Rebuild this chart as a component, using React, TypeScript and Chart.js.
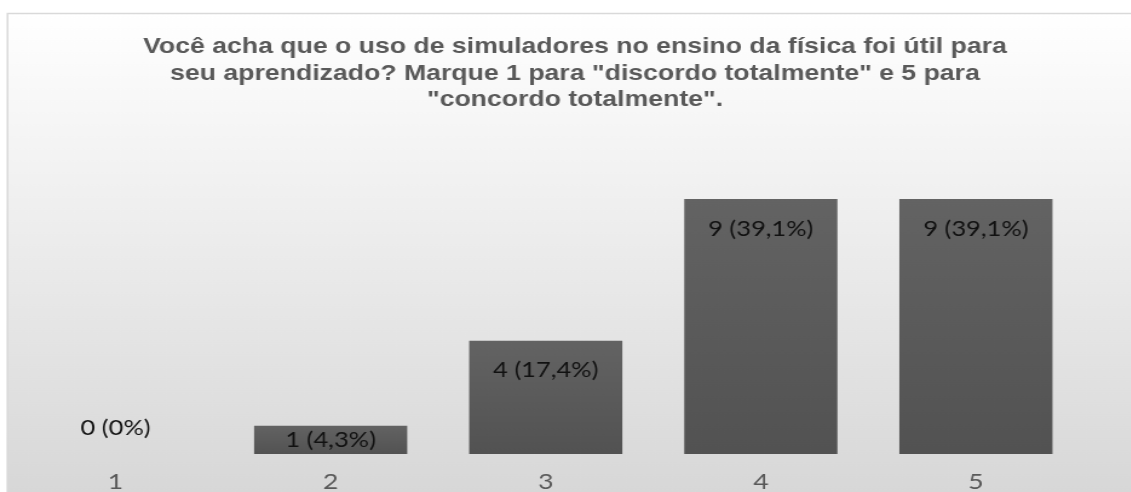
import React, { useEffect, useRef } from "react";
import { Chart, registerables } from "chart.js";

Chart.register(...registerables);

const categories = ["1", "2", "3", "4", "5"];
const counts = [0, 1, 4, 9, 9];
const percentLabels = ["0%", "4,3%", "17,4%", "39,1%", "39,1%"];
const titleLines = [
  "Você acha que o uso de simuladores no ensino da física foi útil para",
  "seu aprendizado? Marque 1 para \"discordo totalmente\" e 5 para",
  "\"concordo totalmente\".",
];

// the reference picture is horizontally stretched; draw narrower and stretch with CSS
const SX = 1.21;
const W = 1150;
const H = 521;
const WI = W / SX;

const backgroundPlugin = {
  id: "bgFrame",
  beforeDraw(chart: any) {
    const c = chart.ctx;
    c.save();
    const g = c.createLinearGradient(0, 13, 0, H);
    g.addColorStop(0, "#ffffff");
    g.addColorStop(1, "#d5d5d5");
    c.fillStyle = g;
    c.fillRect(7 / SX, 13, 1136 / SX, H - 14);
    c.strokeStyle = "#d9d9d9";
    c.lineWidth = 1.5;
    c.strokeRect(7.5 / SX, 13.5, 1135 / SX, H - 15);
    c.restore();
  },
};

const labelPlugin = {
  id: "barLabels",
  afterDatasetsDraw(chart: any) {
    const c = chart.ctx;
    const meta = chart.getDatasetMeta(0);
    c.save();
    c.font = "21px Lato";
    c.fillStyle = "#111111";
    c.textAlign = "center";
    c.textBaseline = "middle";
    meta.data.forEach((el: any, i: number) => {
      const top = el.y;
      const base = el.base;
      const h = base - top;
      let cy: number;
      if (h >= 58) cy = top + 30;
      else if (h > 1) cy = top + h / 2;
      else cy = base - 26;
      c.fillText(`${counts[i]} (${percentLabels[i]})`, el.x, cy);
    });
    c.restore();
  },
};

export default function App() {
  const ref = useRef<HTMLCanvasElement>(null);
  useEffect(() => {
    if (!ref.current) return;
    const chart = new Chart(ref.current, {
      type: "bar",
      data: {
        labels: categories,
        datasets: [
          {
            data: counts,
            backgroundColor: (ctx: any) => {
              const chart = ctx.chart;
              if (!chart.chartArea) return "#5a5a5a";
              const y = chart.scales.y;
              const top = y.getPixelForValue(ctx.raw);
              const base = y.getPixelForValue(0);
              if (base - top < 1) return "#5a5a5a";
              const g = chart.ctx.createLinearGradient(0, top, 0, base);
              g.addColorStop(0, "#636363");
              g.addColorStop(1, "#525252");
              return g;
            },
            borderWidth: 0,
            barPercentage: 0.712,
            categoryPercentage: 1,
          },
        ],
      },
      options: {
        responsive: false,
        animation: false,
        devicePixelRatio: 1,
        layout: { padding: { left: 8 / SX, right: 8 / SX, top: 0, bottom: 10.6 } },
        plugins: {
          legend: { display: false },
          tooltip: { enabled: false },
          title: {
            display: true,
            text: titleLines,
            color: "#595959",
            font: { family: "'Liberation Sans', Arial, sans-serif", size: 22, weight: "bold", lineHeight: 1.2 },
            padding: { top: 34, bottom: 57.5 },
          },
        },
        scales: {
          x: {
            grid: { display: false, drawTicks: false },
            border: { display: false },
            ticks: {
              color: "#595959",
              font: { family: "Lato", size: 22 },
              padding: 15,
            },
          },
          y: {
            display: false,
            min: 0,
            max: 10,
          },
          yR: {
            type: "linear",
            position: "right",
            display: true,
            grid: { display: false, drawTicks: false },
            border: { display: false },
            ticks: { display: false },
            afterFit: (scale: any) => {
              scale.width = (1142 - 1083.5) / SX;
            },
          },
        },
      },
      plugins: [backgroundPlugin, labelPlugin],
    } as any);
    return () => chart.destroy();
  }, []);
  return (
    <div style={{ position: "fixed", left: 0, top: 0, width: 1131, height: 492, overflow: "hidden" }}>
      <canvas ref={ref} width={Math.round(WI)} height={H} style={{ width: W, height: H, display: "block" }} />
    </div>
  );
}
